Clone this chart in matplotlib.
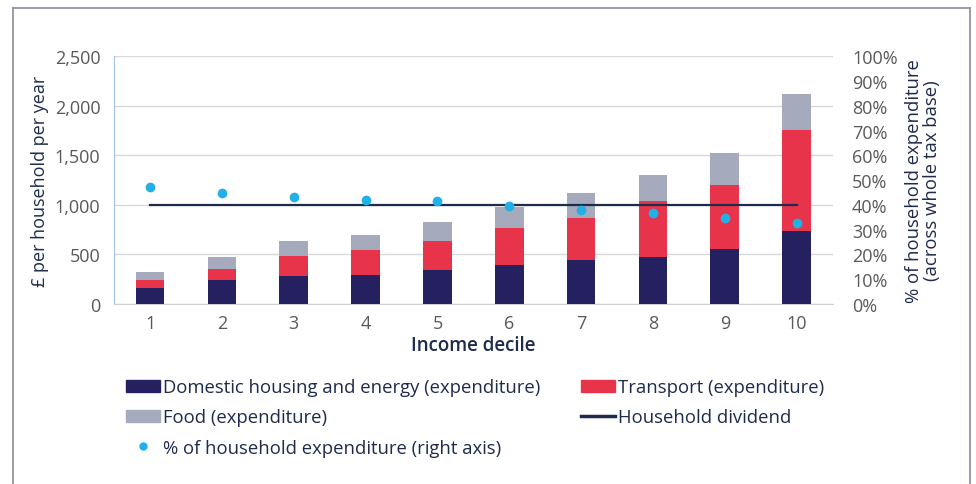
import matplotlib.pyplot as plt
import numpy as np
from matplotlib.lines import Line2D
from matplotlib.patches import Patch
from matplotlib.ticker import FuncFormatter

plt.rcParams['font.family'] = ['Open Sans', 'DejaVu Sans']

deciles = ['1', '2', '3', '4', '5', '6', '7', '8', '9', '10']
housing = [158, 239, 279, 296, 346, 393, 440, 474, 551, 733]
transport = [87, 117, 208, 252, 289, 376, 430, 564, 652, 1021]
food = [81, 114, 151, 151, 191, 209, 246, 266, 316, 366]
dividend = [1000] * 10
share = [47.3, 45.0, 43.0, 42.1, 41.5, 39.6, 38.0, 36.6, 34.9, 32.8]

navy = '#252160'
red = '#e8344a'
grey = '#a5aabd'
cyan = '#22b1e6'
line_col = '#1f2b4d'
tick_col = '#595959'

fig = plt.figure(figsize=(9.76, 4.85), dpi=100)
ax = fig.add_axes([0.117, 0.371, 0.736, 0.511])

x = np.arange(1, len(deciles) + 1)
w = 0.4
ax.bar(x, housing, w, color=navy, zorder=3)
ax.bar(x, transport, w, bottom=housing, color=red, zorder=3)
bottom2 = np.array(housing) + np.array(transport)
ax.bar(x, food, w, bottom=bottom2, color=grey, zorder=3)
ax.plot(x, dividend, color=line_col, lw=1.6, zorder=4)

ax.set_xlim(0.5, 10.5)
ax.set_ylim(0, 2500)
ax.set_yticks(range(0, 2501, 500))
ax.yaxis.set_major_formatter(FuncFormatter(lambda v, p: f'{int(v):,}'))
ax.set_xticks(x)
ax.set_xticklabels(deciles)
ax.grid(axis='y', color='#d9d9d9', lw=1, zorder=0)
ax.tick_params(length=0, labelsize=13, labelcolor=tick_col, pad=7)
ax.tick_params(axis='y', pad=10)
for s in ['top', 'right']:
    ax.spines[s].set_visible(False)
ax.spines['left'].set_color('#9dc3e6')
ax.spines['bottom'].set_color('#d0d0d0')
ax.set_xlabel('Income decile', fontsize=13.5, color=line_col, fontweight='semibold', labelpad=2)
ax.set_ylabel('£ per household per year', fontsize=13, color=line_col, labelpad=4)

ax2 = ax.twinx()
ax2.plot(x, share, 'o', color=cyan, ms=6, zorder=5)
ax2.set_ylim(0, 100)
ax2.set_yticks(range(0, 101, 10))
ax2.yaxis.set_major_formatter(FuncFormatter(lambda v, p: f'{int(v)}%'))
ax2.tick_params(length=0, labelsize=13, labelcolor=tick_col, pad=14)
for s in ax2.spines.values():
    s.set_visible(False)
ax2.set_ylabel('% of household expenditure\n(across whole tax base)', fontsize=13.3,
               color=line_col, labelpad=5, linespacing=1.0)

handles = [
    Patch(color=navy, label='Domestic housing and energy (expenditure)'),
    Patch(color=grey, label='Food (expenditure)'),
    Line2D([], [], marker='o', ls='', color=cyan, ms=5, label='% of household expenditure (right axis)'),
    Patch(color=red, label='Transport (expenditure)'),
    Line2D([], [], color=line_col, lw=2.5, label='Household dividend'),
]
leg = fig.legend(handles=handles, ncol=2, loc='upper left', bbox_to_anchor=(0.129, 0.218),
                 frameon=False, fontsize=13.3, handlelength=1.85, handleheight=0.6,
                 handletextpad=0.15, columnspacing=2.2, labelspacing=0.66,
                 borderaxespad=0, borderpad=0)
for t in leg.get_texts():
    t.set_color(line_col)

# frame around the figure
fc = '#8a8ca0'
fig.add_artist(Line2D([13 / 976, 970 / 976], [1 - 9 / 485, 1 - 9 / 485], color=fc, lw=1.2))
fig.add_artist(Line2D([13 / 976, 13 / 976], [0, 1 - 9 / 485], color=fc, lw=1.2))
fig.add_artist(Line2D([970 / 976, 970 / 976], [0, 1 - 9 / 485], color=fc, lw=1.2))

fig.savefig('out.png', dpi=100)
